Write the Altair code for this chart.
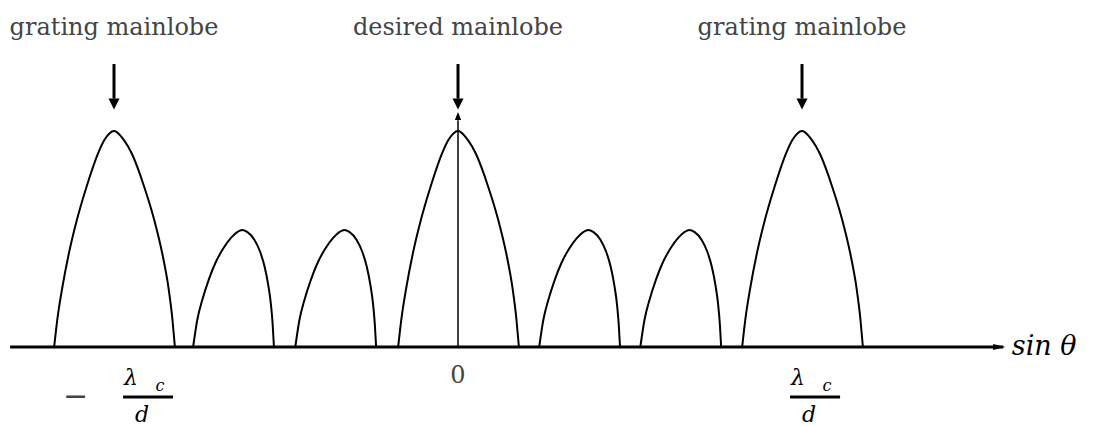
import altair as alt
import pandas as pd

# Peak positions along sin(theta), in units of lambda_c / d
mainlobe_peaks = [-1.0, 0.0, 1.0]
sidelobe_peaks = [-0.628, -0.331, 0.378, 0.672]

# Outline of a main (or grating) lobe: offset from its peak, relative level
mainlobe_dx = [-0.174, -0.165, -0.150, -0.131, -0.108, -0.080, -0.046, -0.028, 0.0,
               0.029, 0.051, 0.088, 0.117, 0.140, 0.158, 0.170, 0.177]
mainlobe_level = [0.0, 0.125, 0.278, 0.435, 0.588, 0.741, 0.898, 0.958, 1.0,
                  0.958, 0.898, 0.741, 0.588, 0.435, 0.278, 0.125, 0.0]

# Outline of a sidelobe
sidelobe_dx = [-0.142, -0.130, -0.115, -0.097, -0.077, -0.055, -0.032, -0.013, 0.0,
               0.016, 0.036, 0.053, 0.066, 0.076, 0.084, 0.089, 0.093]
sidelobe_level = [0.0, 0.125, 0.220, 0.310, 0.390, 0.455, 0.505, 0.533, 0.542,
                  0.532, 0.497, 0.440, 0.370, 0.290, 0.200, 0.110, 0.0]

top_labels = ["grating mainlobe", "desired mainlobe", "grating mainlobe"]
zero_label = "0"
axis_label = "sin θ"

# Build the lobe outlines
rows = []
lobe_id = 0
for peak in mainlobe_peaks:
    for dx, lv in zip(mainlobe_dx, mainlobe_level):
        rows.append({"lobe": lobe_id, "x": peak + dx, "y": lv})
    lobe_id += 1
for peak in sidelobe_peaks:
    for dx, lv in zip(sidelobe_dx, sidelobe_level):
        rows.append({"lobe": lobe_id, "x": peak + dx, "y": lv})
    lobe_id += 1
lobes = pd.DataFrame(rows)

xs = alt.Scale(domain=[-1.3314, 1.8488], nice=False, zero=False)
ys = alt.Scale(domain=[-0.3657, 1.6065], nice=False, zero=False)

FONT = "DejaVu Serif"
GREY = "#444444"


def X(field="x"):
    return alt.X(f"{field}:Q", scale=xs, axis=None)


def Y(field="y"):
    return alt.Y(f"{field}:Q", scale=ys, axis=None)


lobe_lines = alt.Chart(lobes).mark_line(
    color="black", strokeWidth=2, interpolate="monotone"
).encode(x=X(), y=Y(), detail="lobe:N")

# Horizontal sin(theta) axis with arrow head
h_axis = alt.Chart(pd.DataFrame({"x": [-1.302], "x2": [1.585], "y": [0.0]})).mark_rule(
    color="black", strokeWidth=3
).encode(x=X(), x2="x2:Q", y=Y())
h_head = alt.Chart(pd.DataFrame({"x": [1.573], "y": [0.0]})).mark_point(
    shape="M-1,-0.5L1,0L-1,0.5Z", size=144, filled=True, color="black", opacity=1
).encode(x=X(), y=Y())

# Vertical reference axis at broadside
v_axis = alt.Chart(pd.DataFrame({"x": [0.0], "y": [0.0], "y2": [1.05]})).mark_rule(
    color="black", strokeWidth=1.5
).encode(x=X(), y=Y(), y2="y2:Q")
v_head = alt.Chart(pd.DataFrame({"x": [0.0], "y": [1.069]})).mark_point(
    shape="M0,-1L0.8,1L-0.8,1Z", size=64, filled=True, color="black", opacity=1
).encode(x=X(), y=Y())

# Pointer arrows over the main lobes
arrows = pd.DataFrame({"x": mainlobe_peaks, "y": [1.31] * 3, "y2": [1.15] * 3})
arrow_stems = alt.Chart(arrows).mark_rule(color="black", strokeWidth=3).encode(
    x=X(), y=Y(), y2="y2:Q")
arrow_heads = alt.Chart(pd.DataFrame({"x": mainlobe_peaks, "y": [1.125] * 3})).mark_point(
    shape="M-1,-1L1,-1L0,1Z", size=121, filled=True, color="black", opacity=1
).encode(x=X(), y=Y())

arrow_labels = alt.Chart(pd.DataFrame({"x": mainlobe_peaks, "y": [1.444] * 3,
                                       "label": top_labels})).mark_text(
    font=FONT, fontSize=24, color=GREY, align="center", baseline="alphabetic"
).encode(x=X(), y=Y(), text="label:N")

# Tick label at the origin
zero_text = alt.Chart(pd.DataFrame({"x": [0.0], "y": [-0.167], "t": [zero_label]})).mark_text(
    font=FONT, fontSize=24, color=GREY, align="center", baseline="alphabetic"
).encode(x=X(), y=Y(), text="t:N")

# Fractions  -lambda_c/d  and  lambda_c/d
frac_centers = [-0.901, 1.038]
frac = pd.DataFrame({"x": frac_centers})
lam = alt.Chart(frac.assign(y=-0.176, t="λ")).mark_text(
    font=FONT, fontSize=22, fontStyle="italic", color="black", align="center",
    baseline="alphabetic", dx=-17
).encode(x=X(), y=Y(), text="t:N")
sub_c = alt.Chart(frac.assign(y=-0.204, t="c")).mark_text(
    font=FONT, fontSize=16, fontStyle="italic", color="black", align="center",
    baseline="alphabetic", dx=12
).encode(x=X(), y=Y(), text="t:N")
den_d = alt.Chart(frac.assign(y=-0.347, t="d")).mark_text(
    font=FONT, fontSize=22, fontStyle="italic", color="black", align="center",
    baseline="alphabetic", dx=-6
).encode(x=X(), y=Y(), text="t:N")
frac_bar = alt.Chart(frac.assign(y=-0.2315)).mark_point(
    shape="M-1,0L1,0", size=2500, filled=False, color="black", strokeWidth=3, opacity=1
).encode(x=X(), y=Y())
minus = alt.Chart(pd.DataFrame({"x": [-1.112], "y": [-0.273], "t": ["−"]})).mark_text(
    font=FONT, fontSize=30, color=GREY, align="center", baseline="alphabetic"
).encode(x=X(), y=Y(), text="t:N")

axis_text = alt.Chart(pd.DataFrame({"x": [1.610], "y": [-0.037], "t": [axis_label]})).mark_text(
    font=FONT, fontSize=27, fontStyle="italic", color="black", align="left",
    baseline="alphabetic"
).encode(x=X(), y=Y(), text="t:N")

chart = alt.layer(
    lobe_lines, h_axis, h_head, v_axis, v_head, arrow_stems, arrow_heads,
    arrow_labels, zero_text, lam, sub_c, den_d, frac_bar, minus, axis_text
).properties(
    width=1094, height=426, padding=0, autosize=alt.AutoSizeParams(type="none"),
    background="white"
).configure_view(stroke=None)

chart.save("out.html", embed_options={"renderer": "svg", "actions": False})
